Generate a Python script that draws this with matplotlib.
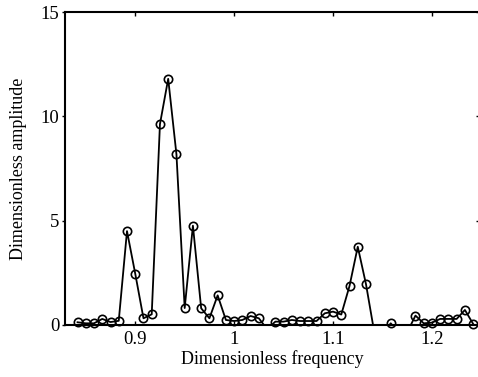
import numpy as np
import matplotlib
matplotlib.use("Agg")
import matplotlib.pyplot as plt
from matplotlib.ticker import FixedLocator, FixedFormatter

# frequency samples k/120, k = 101..149
freq = np.arange(101, 150) / 120.0
amp = np.array([
    0.13, 0.08, 0.08, 0.29, 0.14, 0.20, 4.50, 2.46, 0.32, 0.51,
    9.63, 11.80, 8.18, 0.81, 4.76, 0.80, 0.32, 1.42, 0.24, 0.19,
    0.24, 0.43, 0.32, -0.20, 0.16, 0.16, 0.24, 0.19, 0.19, 0.19,
    0.56, 0.64, 0.50, 1.87, 3.75, 1.95, -0.34, -0.40, 0.08, -0.40,
    -0.35, 0.45, 0.08, 0.11, 0.29, 0.29, 0.29, 0.72, 0.05,
])

xticks = [0.9, 1.0, 1.1, 1.2]
xticklabels = ["0.9", "1", "1.1", "1.2"]
yticks = [0, 5, 10, 15]

plt.rcParams['font.family'] = ['Liberation Serif', 'DejaVu Serif']

fig = plt.figure(figsize=(4.78, 3.77), dpi=100)
ax = fig.add_axes([0.136, 0.138, 0.868, 0.830])

ax.plot(freq, amp, color='black', lw=1.3)
ok = amp >= 0
ax.plot(freq[ok], amp[ok], ls='none', marker='o', ms=6, mfc='none',
        mec='black', mew=1.2, clip_on=False)

ax.set_xlim(0.829, 1.2485)
ax.set_ylim(0, 15)
ax.xaxis.set_major_locator(FixedLocator(xticks))
ax.xaxis.set_major_formatter(FixedFormatter(xticklabels))
ax.set_yticks(yticks)
ax.tick_params(direction='in', top=True, right=True, length=3, width=1,
               labelsize=13.5, pad=4)
ax.tick_params(axis='y', which='both', left=True)
ax.yaxis.set_tick_params(direction='out', length=2, pad=2)
ax.yaxis.set_tick_params(which='major', right=True)
for t in ax.yaxis.get_major_ticks():
    t.tick2line.set_marker(matplotlib.lines.TICKLEFT)
    t.tick2line.set_markersize(3)
for s in ax.spines.values():
    s.set_linewidth(1.5)

ax.set_xlabel('Dimensionless frequency', fontsize=13, labelpad=2)
ax.set_ylabel('Dimensionless amplitude', fontsize=13, labelpad=10)

fig.savefig('out.png', dpi=100)
plt.close(fig)
